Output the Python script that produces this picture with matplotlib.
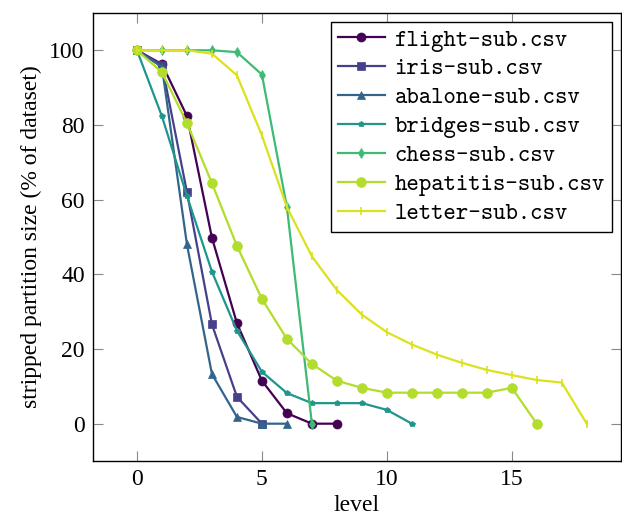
import matplotlib
matplotlib.use("Agg")
import matplotlib.pyplot as plt

# stripped partition size (% of dataset) per level
flight = [100, 96.3, 82.4, 49.8, 26.9, 11.5, 2.8, 0, 0]
iris = [100, 96.0, 62.0, 26.6, 7.2, 0]
abalone = [100, 95.5, 48.0, 13.3, 1.8, 0, 0]
bridges = [100, 82.3, 61.0, 40.7, 24.9, 13.9, 8.2, 5.5, 5.5, 5.5, 3.7, 0]
chess = [100, 100, 100, 100, 99.5, 93.5, 58.0, 0]
hepatitis = [100, 94.1, 80.5, 64.4, 47.6, 33.4, 22.7, 16.0, 11.5, 9.6,
             8.3, 8.3, 8.3, 8.3, 8.3, 9.6, 0]
letter = [100, 100, 100, 99.1, 93.3, 77.2, 58.0, 44.8, 35.8, 29.2,
          24.5, 21.2, 18.5, 16.3, 14.4, 13.0, 11.7, 11.0, 0]

labels = ["flight-sub.csv", "iris-sub.csv", "abalone-sub.csv", "bridges-sub.csv",
          "chess-sub.csv", "hepatitis-sub.csv", "letter-sub.csv"]
series = [flight, iris, abalone, bridges, chess, hepatitis, letter]

colors = ["#440154", "#46408a", "#33658c", "#1f958b", "#3dbb74", "#b2dd2c", "#dbe11e"]
markers = ["o", "s", "^", "p", "d", "o", "|"]
msizes = [6.5, 6, 6, 4, 5, 7, 6]

plt.rcParams.update({
    "font.family": "serif",
    "font.serif": ["Liberation Serif", "Times New Roman", "DejaVu Serif"],
    "font.size": 17,
    "xtick.direction": "in",
    "ytick.direction": "in",
    "xtick.top": True,
    "ytick.right": True,
    "xtick.major.size": 7,
    "ytick.major.size": 7,
    "xtick.color": "#888888",
    "ytick.color": "#888888",
    "xtick.labelcolor": "black",
    "ytick.labelcolor": "black",
    "xtick.major.pad": 6,
    "ytick.major.pad": 6,
})

fig = plt.figure(figsize=(6.22, 5.18), dpi=100)
ax = fig.add_axes([0.1495, 0.110, 0.8485, 0.865])

for ys, lab, c, m, ms in zip(series, labels, colors, markers, msizes):
    ax.plot(range(len(ys)), ys, color=c, marker=m, markersize=ms, lw=1.6,
            markeredgewidth=1.2 if m == "|" else 0.5, label=lab)

ax.set_xlim(-1.76, 19.36)
ax.set_ylim(-10, 110)
ax.set_xticks([0, 5, 10, 15])
ax.set_yticks([0, 20, 40, 60, 80, 100])
ax.set_xlabel("level", labelpad=3)
ax.set_ylabel("stripped partition size (% of dataset)", labelpad=5)
for s in ax.spines.values():
    s.set_linewidth(1.0)

leg = ax.legend(loc="upper right", bbox_to_anchor=(0.983, 0.98), borderaxespad=0,
                fancybox=False, edgecolor="black", framealpha=1,
                prop={"family": "cmtt10", "size": 17}, handlelength=2.0,
                labelspacing=0.27, borderpad=0.3, handletextpad=0.4)
leg.get_frame().set_linewidth(1.0)

fig.savefig("out.png", dpi=100)
